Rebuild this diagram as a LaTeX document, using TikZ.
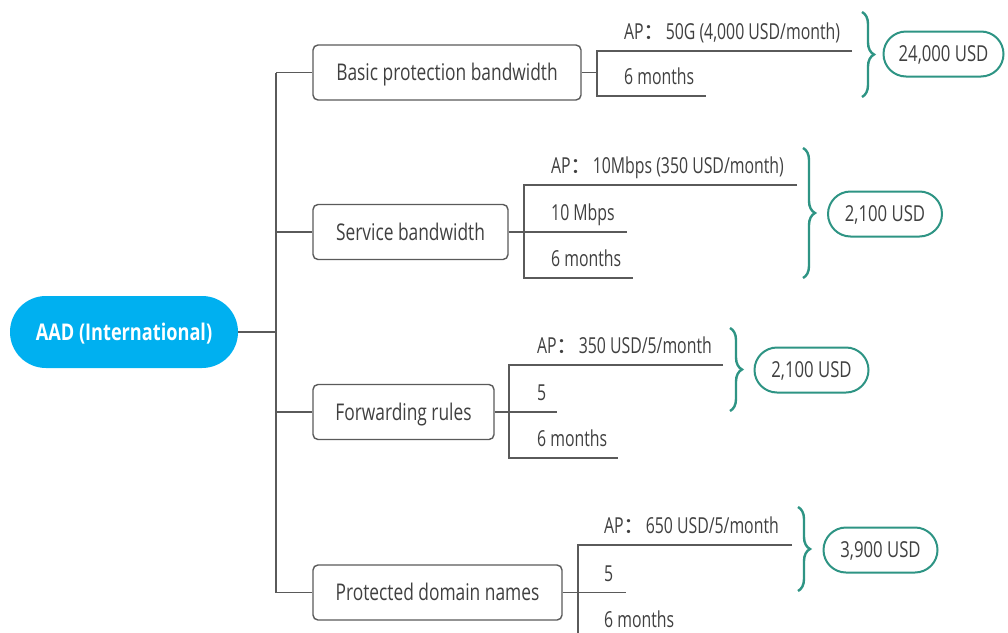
\documentclass[tikz,border=0pt]{standalone}
\usepackage{fontspec}
\setmainfont[FakeStretch=0.755]{Open Sans}
\newfontfamily\leaffont[FakeStretch=0.72]{Open Sans}
\newfontfamily\sumfont[FakeStretch=0.76]{Open Sans}
\newfontfamily\rootfont[FakeStretch=0.79]{Open Sans}
\newfontfamily\cjk{Noto Sans CJK SC}
\usetikzlibrary{decorations.pathreplacing}
\definecolor{rootblue}{HTML}{00B0F0}
\definecolor{sumteal}{HTML}{2E9484}
\definecolor{linegray}{HTML}{5A5A5A}
\definecolor{txtgray}{HTML}{404040}
\newcommand{\fwc}{{\cjk ：}}
\begin{document}
\begin{tikzpicture}[x=1pt,y=-1pt,
  font=\fontsize{23}{26}\selectfont,
  conn/.style={draw=linegray, line width=1.4pt},
  branchbox/.style={draw=linegray, line width=1.4pt, rounded corners=5pt, minimum height=55pt, inner sep=0pt, text=txtgray, text height=16.4pt, text depth=0pt},
  rootpill/.style={fill=rootblue, rounded corners=35.9pt, minimum width=228pt, minimum height=72pt, inner sep=0pt, text=white, font=\rootfont\fontsize{23}{26}\selectfont\bfseries, text height=16.4pt, text depth=0pt},
  sumpill/.style={draw=sumteal, line width=2pt, rounded corners=22.5pt, minimum height=45pt, inner sep=0pt, text=txtgray, font=\sumfont\fontsize{22}{25}\selectfont, text height=15.7pt, text depth=0pt},
  leaf/.style={anchor=base west, inner sep=0pt, text=txtgray, font=\leaffont\fontsize{22}{25}\selectfont},
  sumbrace/.style={draw=sumteal, line width=2.4pt, decorate, decoration={brace, amplitude=12pt}}
]
\fill[white] (0,0) rectangle (1008,632);
\useasboundingbox (0,0) rectangle (1008,632);

% root and branch boxes
\node[rootpill] (root) at (124,332) {AAD (International)};
\node[branchbox, minimum width=268pt] (b1) at (447,72.5) {Basic protection bandwidth};
\node[branchbox, minimum width=195pt] (b2) at (410.5,232) {Service bandwidth};
\node[branchbox, minimum width=181pt] (b3) at (403.5,412) {Forwarding rules};
\node[branchbox, minimum width=249pt] (b4) at (437.5,592.5) {Protected domain names};

% trunk
\coordinate (trunk) at (276,332);
\draw[conn] (root.east) -- (trunk);
\draw[conn] (trunk |- b1.west) -- (trunk |- b4.west);
\foreach \i in {1,...,4} \draw[conn] (trunk |- b\i.west) -- (b\i.west);

% group 1
\coordinate (v1) at (597,72.5);
\coordinate (g1a) at (852,51);
\coordinate (g1b) at (706,96);
\draw[conn] (b1.east) -- (v1);
\draw[conn] (g1a) -- (v1 |- g1a) -- (v1 |- g1b) -- (g1b);
\node[leaf] (t1a) at (624,39.5) {AP\fwc 50G (4,000 USD/month)};
\node[leaf] (t1b) at (624,84.5) {6 months};

% group 2
\coordinate (v2) at (524,232);
\coordinate (g2a) at (797,185);
\coordinate (g2b) at (627,232);
\coordinate (g2c) at (633,278);
\draw[conn] (b2.east) -- (g2b);
\draw[conn] (g2a) -- (v2 |- g2a) -- (v2 |- g2c) -- (g2c);
\node[leaf] (t2a) at (551,173.5) {AP\fwc 10Mbps (350 USD/month)};
\node[leaf] (t2b) at (551,220.5) {10 Mbps};
\node[leaf] (t2c) at (551,266.5) {6 months};

% group 3
\coordinate (v3) at (509,412);
\coordinate (g3a) at (723,365);
\coordinate (g3b) at (557,412);
\coordinate (g3c) at (618,458);
\draw[conn] (b3.east) -- (g3b);
\draw[conn] (g3a) -- (v3 |- g3a) -- (v3 |- g3c) -- (g3c);
\node[leaf] (t3a) at (537,353.5) {AP\fwc 350 USD/5/month};
\node[leaf] (t3b) at (537,400.5) {5};
\node[leaf] (t3c) at (537,446.5) {6 months};

% group 4
\coordinate (v4) at (578,592.5);
\coordinate (g4a) at (792,545);
\coordinate (g4b) at (626,592.5);
\coordinate (g4c) at (700,640);
\draw[conn] (b4.east) -- (g4b);
\draw[conn] (g4a) -- (v4 |- g4a) -- (v4 |- g4c) -- (g4c);
\node[leaf] (t4a) at (604,533.5) {AP\fwc 650 USD/5/month};
\node[leaf] (t4b) at (604,581) {5};
\node[leaf] (t4c) at (604,627) {6 months};

% braces
\coordinate (br1t) at (862,12);  \coordinate (br1b) at (862,97);
\coordinate (br2t) at (803,148); \coordinate (br2b) at (803,278);
\coordinate (br3t) at (730,328); \coordinate (br3b) at (730,411);
\coordinate (br4t) at (798,507); \coordinate (br4b) at (798,591);
\draw[sumbrace] (br1t) -- (br1b);
\draw[sumbrace] (br2t) -- (br2b);
\draw[sumbrace] (br3t) -- (br3b);
\draw[sumbrace] (br4t) -- (br4b);

% totals
\node[sumpill, minimum width=120pt] (s1) at (943.5,54) {24,000 USD};
\node[sumpill, minimum width=114pt] (s2) at (885,214) {2,100 USD};
\node[sumpill, minimum width=114pt] (s3) at (811.5,370) {2,100 USD};
\node[sumpill, minimum width=114pt] (s4) at (880.5,550) {3,900 USD};
\end{tikzpicture}
\end{document}
